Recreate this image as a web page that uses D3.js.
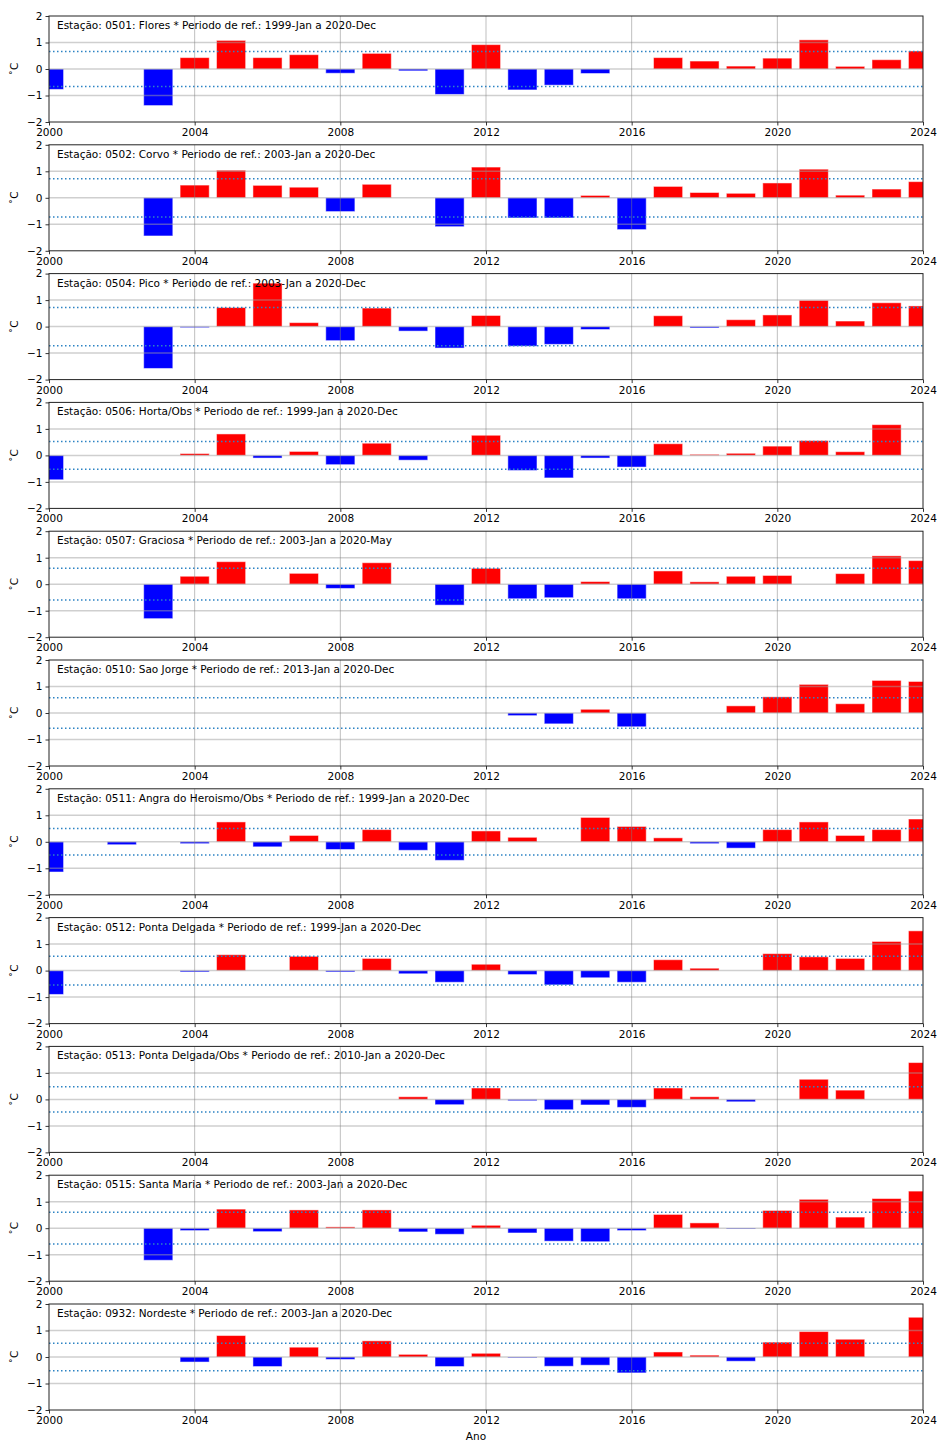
<!DOCTYPE html>
<html>
<head>
<meta charset="utf-8">
<script src="https://cdn.jsdelivr.net/npm/d3@7"></script>
<style>
  body { margin: 0; background: #fff; }
  text { font-family: "DejaVu Sans", sans-serif; }
</style>
</head>
<body>
<svg id="chart" width="938" height="1441"></svg>
<script>
// anomalies in °C, one value per year (null = no bar)
const years = [2000, 2001, 2002, 2003, 2004, 2005, 2006, 2007, 2008, 2009, 2010, 2011, 2012,
  2013, 2014, 2015, 2016, 2017, 2018, 2019, 2020, 2021, 2022, 2023, 2024];
const xTicks = [2000, 2004, 2008, 2012, 2016, 2020, 2024];
const yTicks = [-2, -1, 0, 1, 2];

const stationIds = ["0501", "0502", "0504", "0506", "0507", "0510", "0511", "0512", "0513", "0515", "0932"];
const stationNames = ["Flores", "Corvo", "Pico", "Horta/Obs", "Graciosa", "Sao Jorge",
  "Angra do Heroismo/Obs", "Ponta Delgada", "Ponta Delgada/Obs", "Santa Maria", "Nordeste"];
const refPeriods = ["1999-Jan a 2020-Dec", "2003-Jan a 2020-Dec", "2003-Jan a 2020-Dec",
  "1999-Jan a 2020-Dec", "2003-Jan a 2020-May", "2013-Jan a 2020-Dec", "1999-Jan a 2020-Dec",
  "1999-Jan a 2020-Dec", "2010-Jan a 2020-Dec", "2003-Jan a 2020-Dec", "2003-Jan a 2020-Dec"];
const limits = [0.66, 0.72, 0.72, 0.52, 0.6, 0.58, 0.5, 0.545, 0.475, 0.6, 0.52];

const flores = [-0.77, null, null, -1.38, 0.43, 1.08, 0.43, 0.54, -0.16, 0.59, -0.07, -0.96, 0.92,
  -0.79, -0.61, -0.17, null, 0.43, 0.30, 0.11, 0.41, 1.10, 0.10, 0.35, 0.68];
const corvo = [null, null, null, -1.44, 0.48, 1.04, 0.47, 0.40, -0.52, 0.51, null, -1.09, 1.16,
  -0.76, -0.76, 0.09, -1.20, 0.43, 0.20, 0.17, 0.56, 1.08, 0.10, 0.33, 0.61];
const pico = [null, null, null, -1.58, -0.04, 0.72, 1.64, 0.15, -0.53, 0.70, -0.17, -0.81, 0.42,
  -0.74, -0.67, -0.11, null, 0.41, -0.05, 0.26, 0.44, 0.99, 0.21, 0.90, 0.78];
const horta = [-0.92, null, null, null, 0.07, 0.81, -0.10, 0.15, -0.35, 0.46, -0.18, null, 0.76,
  -0.57, -0.85, -0.10, -0.44, 0.44, 0.04, 0.08, 0.35, 0.56, 0.14, 1.16, null];
const graciosa = [null, null, null, -1.30, 0.30, 0.85, null, 0.41, -0.16, 0.81, null, -0.79, 0.60,
  -0.55, -0.51, 0.10, -0.55, 0.50, 0.09, 0.30, 0.33, null, 0.40, 1.07, 0.89];
const saoJorge = [null, null, null, null, null, null, null, null, null, null, null, null, null,
  -0.10, -0.41, 0.14, -0.52, null, null, 0.27, 0.61, 1.08, 0.35, 1.23, 1.19];
const angra = [-1.14, null, -0.11, null, -0.07, 0.75, -0.19, 0.24, -0.29, 0.46, -0.32, -0.70, 0.41,
  0.17, null, 0.92, 0.58, 0.15, -0.07, -0.24, 0.46, 0.75, 0.24, 0.46, 0.86];
const pontaDelgada = [-0.90, null, null, null, -0.05, 0.60, null, 0.54, -0.05, 0.46, -0.12, -0.44, 0.24,
  -0.15, -0.54, -0.27, -0.44, 0.41, 0.09, null, 0.64, 0.52, 0.46, 1.10, 1.50];
const pontaDelgadaObs = [null, null, null, null, null, null, null, null, null, null, 0.10, -0.20, 0.43,
  -0.05, -0.39, -0.21, -0.30, 0.43, 0.10, -0.09, null, 0.76, 0.35, null, 1.39];
const santaMaria = [null, null, null, -1.21, -0.09, 0.72, -0.13, 0.69, 0.05, 0.69, -0.14, -0.23, 0.11,
  -0.18, -0.49, -0.51, -0.09, 0.52, 0.20, -0.03, 0.67, 1.09, 0.42, 1.12, 1.40];
const nordeste = [null, null, null, null, -0.19, 0.81, -0.36, 0.37, -0.09, 0.61, 0.10, -0.36, 0.14,
  -0.03, -0.35, -0.31, -0.60, 0.19, 0.07, -0.16, 0.56, 0.96, 0.67, null, 1.50];

const series = [flores, corvo, pico, horta, graciosa, saoJorge, angra, pontaDelgada,
  pontaDelgadaObs, santaMaria, nordeste];

// layout
const left = 49, right = 923, firstTop = 16, step = 128.8, panelH = 106;
const fontSize = 10.5;

const svg = d3.select("#chart");

const x = d3.scaleLinear().domain([2000, 2024]).range([left, right]);
const barW = x(2000.8) - x(2000);

series.forEach((vals, i) => {
  const top = firstTop + i * step;
  const y = d3.scaleLinear().domain([-2, 2]).range([top + panelH, top]);
  const g = svg.append("g").attr("class", "panel");

  g.append("clipPath").attr("id", "clip" + i)
    .append("rect")
    .attr("x", left).attr("y", top)
    .attr("width", right - left).attr("height", panelH);

  const data = years.map((yr, k) => ({ year: yr, v: vals[k] })).filter(d => d.v !== null);

  // bars
  g.append("g").attr("clip-path", `url(#clip${i})`)
    .selectAll("rect")
    .data(data)
    .join("rect")
    .attr("x", d => x(d.year) - barW / 2)
    .attr("width", barW)
    .attr("y", d => y(Math.max(0, d.v)))
    .attr("height", d => Math.abs(y(d.v) - y(0)))
    .attr("fill", d => d.v >= 0 ? "#ff0000" : "#0000ff")
    .attr("stroke", "#ffffff")
    .attr("stroke-opacity", 0.5)
    .attr("stroke-width", 1);

  // grid over bars
  g.append("g")
    .selectAll("line.hg")
    .data([-1, 0, 1])
    .join("line")
    .attr("x1", left).attr("x2", right)
    .attr("y1", d => y(d)).attr("y2", d => y(d))
    .attr("stroke", "#a0a0a0").attr("stroke-opacity", 0.5).attr("stroke-width", 1.5);

  g.append("g")
    .selectAll("line.vg")
    .data(xTicks.slice(1, -1))
    .join("line")
    .attr("x1", d => x(d)).attr("x2", d => x(d))
    .attr("y1", top).attr("y2", top + panelH)
    .attr("stroke", "#808080").attr("stroke-opacity", 0.5).attr("stroke-width", 1);

  // threshold lines
  g.append("g")
    .selectAll("line")
    .data([limits[i], -limits[i]])
    .join("line")
    .attr("x1", left).attr("x2", right)
    .attr("y1", d => y(d)).attr("y2", d => y(d))
    .attr("stroke", "#2c83c4").attr("stroke-width", 1.5)
    .attr("stroke-dasharray", "1.5,2.5");

  // axes
  const xAxisG = g.append("g")
    .attr("transform", `translate(0,${top + panelH})`)
    .call(d3.axisBottom(x).tickValues(xTicks).tickFormat(d3.format("d")).tickSize(3.5).tickPadding(3));
  const yAxisG = g.append("g")
    .attr("transform", `translate(${left},0)`)
    .call(d3.axisLeft(y).tickValues(yTicks).tickFormat(d3.format("d")).tickSize(3.5).tickPadding(3));
  [xAxisG, yAxisG].forEach(a => {
    a.select(".domain").remove();
    a.selectAll("text").attr("font-family", "DejaVu Sans").attr("font-size", fontSize).attr("fill", "#000");
    a.selectAll("line").attr("stroke", "#000").attr("stroke-width", 0.8);
  });

  // spines
  g.append("rect")
    .attr("x", left).attr("y", top)
    .attr("width", right - left).attr("height", panelH)
    .attr("fill", "none").attr("stroke", "#222").attr("stroke-width", 1);

  g.append("text")
    .attr("x", left + 8).attr("y", top + 13)
    .attr("font-size", fontSize)
    .text(`Estação: ${stationIds[i]}: ${stationNames[i]} * Periodo de ref.: ${refPeriods[i]}`);

  g.append("text")
    .attr("transform", `translate(18,${y(0)}) rotate(-90)`)
    .attr("text-anchor", "middle")
    .attr("font-size", fontSize)
    .text("˚C");
});

svg.append("text")
  .attr("x", 476).attr("y", 1440)
  .attr("text-anchor", "middle")
  .attr("font-size", fontSize)
  .text("Ano");
</script>
</body>
</html>
